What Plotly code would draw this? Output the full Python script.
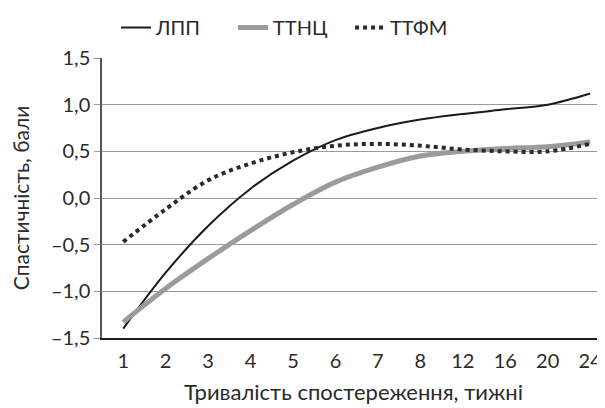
import plotly.graph_objects as go

weeks = ["1", "2", "3", "4", "5", "6", "7", "8", "12", "16", "20", "24"]
lpp = [-1.40, -0.80, -0.30, 0.10, 0.40, 0.62, 0.75, 0.84, 0.90, 0.95, 1.00, 1.12]
ttnc = [-1.33, -0.97, -0.65, -0.35, -0.07, 0.17, 0.33, 0.45, 0.50, 0.53, 0.55, 0.60]
ttfm = [-0.47, -0.12, 0.19, 0.37, 0.49, 0.56, 0.58, 0.56, 0.52, 0.50, 0.50, 0.58]

ytick_vals = [-1.5, -1.0, -0.5, 0.0, 0.5, 1.0, 1.5]
ytick_text = ["–1,5", "–1,0", "–0,5", "0,0", "0,5", "1,0", "1,5"]

FONT = "Lato"
TXT = "#2a2a2a"

fig = go.Figure()
fig.add_trace(go.Scatter(x=weeks, y=lpp, name="ЛПП", mode="lines",
                         line=dict(color="#1a1a1a", width=2, shape="spline")))
fig.add_trace(go.Scatter(x=weeks, y=ttnc, name="ТТНЦ", mode="lines",
                         line=dict(color="#9b9b9b", width=5, shape="spline")))
fig.add_trace(go.Scatter(x=weeks, y=ttfm, name="ТТФМ", mode="lines",
                         line=dict(color="#2a2a2a", width=4, dash="dot", shape="spline")))

# page has an 8px body margin, so the figure is 597x400
fig.update_layout(
    width=597, height=400,
    margin=dict(l=94, r=0, t=50, b=70, autoexpand=False),
    paper_bgcolor="white", plot_bgcolor="white",
    font=dict(family=FONT, size=20, color=TXT),
    showlegend=True,
    legend=dict(orientation="h", xref="container", x=0.181, xanchor="left",
                yref="container", y=1.0, yanchor="top",
                font=dict(family=FONT, size=20, color=TXT), itemwidth=30,
                entrywidth=72, entrywidthmode="pixels",
                bgcolor="rgba(0,0,0,0)"),
    xaxis=dict(type="category", range=[-0.5, 11.35], showgrid=False,
               automargin=False,
               showline=True, linecolor="#231f20", linewidth=1.5,
               ticks="", tickfont=dict(size=20), ticklabelstandoff=4,
               title=dict(text="Тривалість спостереження, тижні", standoff=14,
                          font=dict(size=22))),
    yaxis=dict(range=[-1.5, 1.5], tickvals=ytick_vals, ticktext=ytick_text,
               automargin=False,
               showgrid=True, gridcolor="#9a9a9a", gridwidth=1,
               showline=True, linecolor="#555555", linewidth=1.5,
               ticks="outside", ticklen=6, tickcolor="#9a9a9a",
               tickfont=dict(size=20), zeroline=False,
               title=dict(text="Спастичність, бали", standoff=22,
                          font=dict(size=21))),
)

fig.write_html("out.html")
